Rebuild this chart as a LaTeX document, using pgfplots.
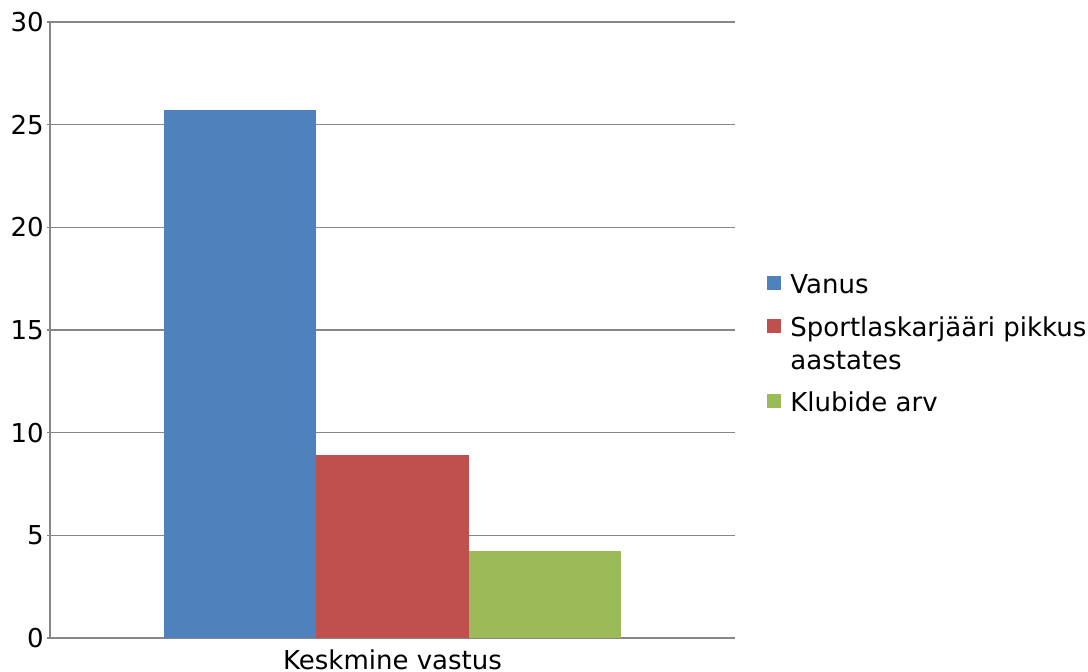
\documentclass[border=0pt]{standalone}
\usepackage{fontspec}
\setmainfont{DejaVu Sans}
\usepackage{pgfplots}
\pgfplotsset{compat=1.18}
\definecolor{cblue}{HTML}{4F81BD}
\definecolor{cred}{HTML}{C0504D}
\definecolor{cgreen}{HTML}{9BBB59}
\definecolor{axgray}{HTML}{878787}
\newcommand\st[1]{\rule[-#1]{0pt}{\dimexpr10pt+#1\relax}}
\begin{document}
\begin{tikzpicture}[font=\fontsize{13}{16.5}\selectfont]
\begin{axis}[
  scale only axis, width=342.5pt, height=308pt,
  ymin=0, ymax=30, ytick={0,5,10,15,20,25,30},
  xmin=-0.75, xmax=0.75,
  xtick={0}, xticklabels={Keskmine vastus},
  /pgf/number format/assume math mode=true,
  major x tick style={draw=none},
  y tick style={draw=axgray, line width=0.75pt},
  tick align=outside, major tick length=1.5pt,
  axis x line*=bottom, axis y line*=left,
  axis line style={draw=axgray, line width=0.9pt},
  ymajorgrids, grid style={draw=axgray, line width=0.8pt},
  yticklabel style={inner sep=1pt, xshift=-0.5pt},
  xticklabel style={inner sep=2pt, yshift=-2pt},
  legend cell align=left,
  legend style={draw=none, fill=none, at={(1.0467,0.5925)}, anchor=north west,
    inner sep=0pt, row sep=0pt,
    cells={anchor=base west, inner sep=0pt, text depth={}},
    nodes={anchor=base west, inner sep=0pt, text depth={}},
    /tikz/every odd column/.append style={column sep=4.5pt}},
  legend image code/.code={\fill[#1] (0pt,1.5pt) rectangle (7pt,8.5pt);},
]
\addplot[ybar, bar width=0.3333, bar shift=0pt, fill=cblue, draw=none] coordinates {(-0.3333,25.72)};
\addplot[ybar, bar width=0.3333, bar shift=0pt, fill=cred, draw=none] coordinates {(0,8.91)};
\addlegendimage{empty legend}
\addplot[ybar, bar width=0.3333, bar shift=0pt, fill=cgreen, draw=none] coordinates {(0.3333,4.24)};
\legend{\st{11.5pt}Vanus, \st{6.5pt}Sportlaskarjääri pikkus, \st{11pt}aastates, \st{3pt}Klubide arv}
\end{axis}
\pgfresetboundingbox
\path ([shift={(-25pt,-17pt)}]current axis.south west) rectangle ++(544pt,336pt);
\end{tikzpicture}
\end{document}
